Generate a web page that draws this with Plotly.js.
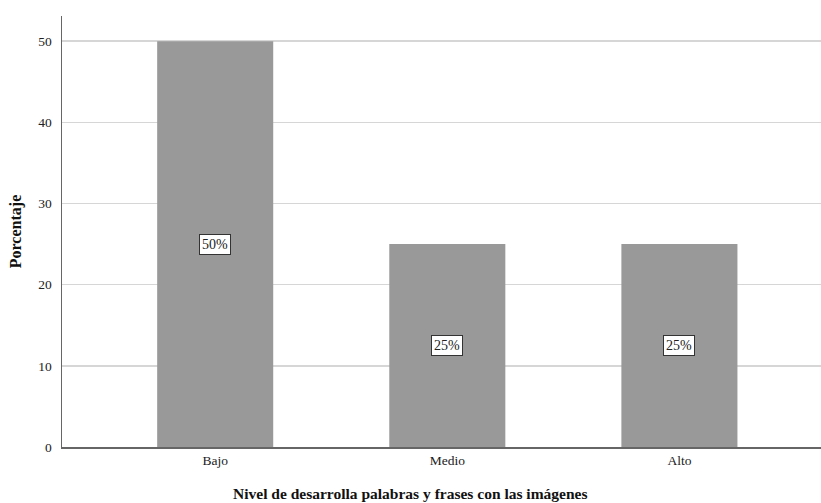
<!DOCTYPE html>
<html><head><meta charset="utf-8">
<script src="https://cdn.plot.ly/plotly-3.0.1.min.js"></script>
<style>html,body{margin:0;padding:0;background:#fff}#c{width:821px;height:503px}</style>
</head><body><div id="c"></div>
<script>
const categories = ["Bajo", "Medio", "Alto"];
const values = [50, 25, 25];
const labels = ["50%", "25%", "25%"];
const xTitle = "Nivel de desarrolla palabras y frases con las imágenes";
const yTitle = "Porcentaje";

const serif = "Liberation Serif, Times New Roman, serif";
const annotations = categories.map((c, i) => ({
  x: c, y: values[i] / 2, xref: "x", yref: "y",
  text: labels[i], showarrow: false,
  bgcolor: "#ffffff", bordercolor: "#333333", borderwidth: 1, borderpad: 2,
  font: {family: serif, size: 14, color: "#222"}
}));
annotations.push({
  xref: "paper", yref: "paper", x: 0.4585, y: 0, yanchor: "middle", yshift: -46,
  text: "<b>" + xTitle + "</b>", showarrow: false,
  font: {family: serif, size: 15.5, color: "#111"}
});

Plotly.newPlot("c", [{
  type: "bar", x: categories, y: values, width: 0.5,
  marker: {color: "#999999", line: {width: 0}},
  hoverinfo: "none"
}], {
  width: 821, height: 503,
  margin: {l: 62, r: 0, t: 16, b: 56},
  paper_bgcolor: "#fff", plot_bgcolor: "#fff",
  showlegend: false,
  xaxis: {
    range: [-0.66, 2.61], showgrid: false, showline: true, linecolor: "#666", linewidth: 1.5,
    ticks: "", tickfont: {family: serif, size: 13.5, color: "#222"}, zeroline: false
  },
  yaxis: {
    range: [0, 53.1], tickvals: [0, 10, 20, 30, 40, 50], showgrid: true, gridcolor: "#d6d6d6", gridwidth: 1.5,
    showline: true, linecolor: "#666", linewidth: 1.5, zeroline: false, ticks: "",
    tickfont: {family: serif, size: 13.5, color: "#222"}, ticklabelstandoff: 6,
    title: {text: "<b>" + yTitle + "</b>", font: {family: serif, size: 16, color: "#111"}, standoff: 12}
  },
  annotations: annotations
}, {displayModeBar: false, staticPlot: true});
</script></body></html>
